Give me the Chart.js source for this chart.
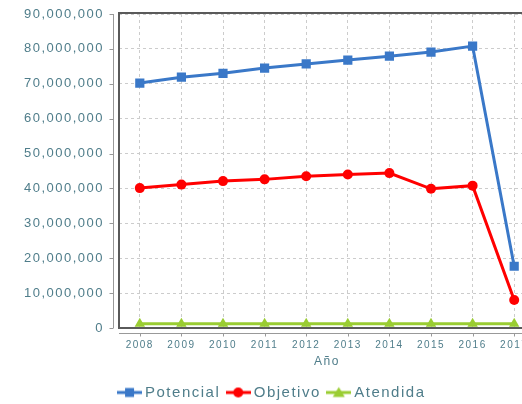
<!DOCTYPE html>
<html>
<head>
<meta charset="utf-8">
<script src="https://cdn.jsdelivr.net/npm/chart.js@4"></script>
<style>
  html, body { margin: 0; padding: 0; overflow: hidden; background: #fff; }
  #wrap { width: 546px; height: 404px; }
</style>
</head>
<body>
<div id="wrap"><canvas id="chart"></canvas></div>
<script>
const years = ["2008", "2009", "2010", "2011", "2012", "2013", "2014", "2015", "2016", "2017"];
const potencial = [70200000, 71900000, 73000000, 74500000, 75700000, 76800000, 77900000, 79100000, 80800000, 17700000];
const objetivo = [40100000, 41100000, 42100000, 42600000, 43500000, 44000000, 44400000, 39900000, 40800000, 8000000];
const atendida = [1200000, 1200000, 1200000, 1200000, 1200000, 1200000, 1200000, 1200000, 1200000, 1200000];

const textColor = "#4f7d8a";
const blue = "#3a78c8";
const red = "#ff0000";
const green = "#9acd32";
const fontFamily = "'Liberation Sans', Arial, sans-serif";

// little line + marker icons for the legend
function legendIcon(color, style) {
  const c = document.createElement("canvas");
  c.width = 25;
  c.height = 14;
  const g = c.getContext("2d");
  g.strokeStyle = color;
  g.fillStyle = color;
  g.lineWidth = 3;
  g.beginPath();
  g.moveTo(0, 7);
  g.lineTo(25, 7);
  g.stroke();
  g.beginPath();
  if (style === "rect") {
    g.rect(8, 2.5, 9, 9);
  } else if (style === "circle") {
    g.arc(12.5, 7, 5, 0, Math.PI * 2);
  } else {
    g.moveTo(12.5, 1.5);
    g.lineTo(18.5, 11.5);
    g.lineTo(6.5, 11.5);
    g.closePath();
  }
  g.fill();
  return c;
}

const spacing = {
  id: "spacing",
  beforeUpdate(chart) { chart.ctx.letterSpacing = "1.5px"; },
  beforeDraw(chart) { chart.ctx.letterSpacing = "1.5px"; },
};

// plot frame plus axis lines set a little apart from it
const frame = {
  id: "frame",
  beforeDatasetsDraw(chart) {
    const { ctx, chartArea: a, scales } = chart;
    ctx.save();
    ctx.strokeStyle = "#5a5a5a";
    ctx.lineWidth = 2;
    ctx.beginPath();
    ctx.moveTo(a.right, a.top - 1);
    ctx.lineTo(a.left, a.top - 1);
    ctx.lineTo(a.left, a.bottom);
    ctx.lineTo(a.right, a.bottom);
    ctx.stroke();

    ctx.strokeStyle = "#999";
    ctx.lineWidth = 1;
    ctx.beginPath();
    const ax = a.left - 5.5;
    ctx.moveTo(ax, a.top);
    ctx.lineTo(ax, a.bottom);
    scales.y.ticks.forEach((t, i) => {
      const py = Math.round(scales.y.getPixelForTick(i)) + 0.5;
      ctx.moveTo(ax - 4, py);
      ctx.lineTo(ax, py);
    });
    const ay = a.bottom + 5.5;
    ctx.moveTo(a.left, ay);
    ctx.lineTo(a.right, ay);
    scales.x.ticks.forEach((t, i) => {
      const px = Math.round(scales.x.getPixelForTick(i)) + 0.5;
      ctx.moveTo(px, ay);
      ctx.lineTo(px, ay + 3);
    });
    ctx.stroke();
    ctx.restore();
  },
};

new Chart(document.getElementById("chart"), {
  type: "line",
  data: {
    labels: years,
    datasets: [
      {
        label: "Potencial",
        data: potencial,
        borderColor: blue,
        backgroundColor: blue,
        borderWidth: 3,
        pointStyle: "rect",
        pointRadius: 6.5,
        pointHoverRadius: 6.5,
        pointBorderWidth: 0,
      },
      {
        label: "Objetivo",
        data: objetivo,
        borderColor: red,
        backgroundColor: red,
        borderWidth: 3,
        pointStyle: "circle",
        pointRadius: 5,
        pointHoverRadius: 5,
        pointBorderWidth: 0,
      },
      {
        label: "Atendida",
        data: atendida,
        borderColor: green,
        backgroundColor: green,
        borderWidth: 3,
        pointStyle: "triangle",
        pointRadius: 6,
        pointHoverRadius: 6,
        pointBorderWidth: 0,
      },
    ],
  },
  options: {
    responsive: true,
    maintainAspectRatio: false,
    animation: false,
    layout: { padding: { top: 14, right: 11, left: 12, bottom: -6 } },
    plugins: {
      tooltip: { enabled: false },
      legend: {
        position: "bottom",
        labels: {
          color: textColor,
          font: { family: fontFamily, size: 15 },
          usePointStyle: true,
          pointStyleWidth: 16,
          padding: 10,
          generateLabels(chart) {
            const icons = [legendIcon(blue, "rect"), legendIcon(red, "circle"), legendIcon(green, "triangle")];
            return chart.data.datasets.map((ds, i) => ({
              text: ds.label,
              pointStyle: icons[i],
              fontColor: textColor,
              datasetIndex: i,
              hidden: false,
              lineWidth: 0,
            }));
          },
        },
      },
    },
    scales: {
      x: {
        offset: true,
        afterFit(s) { s.height = 47; },
        grid: { color: "#cccccc", drawTicks: false },
        border: { display: false, dash: [3, 3] },
        ticks: {
          color: textColor,
          padding: 11,
          font: { family: fontFamily, size: 10 },
          maxRotation: 0,
          autoSkip: false,
        },
        title: {
          display: true,
          text: "Año",
          color: textColor,
          font: { family: fontFamily, size: 12 },
          padding: { top: 4, bottom: 6 },
        },
      },
      y: {
        min: 0,
        max: 90000000,
        afterFit(s) { s.width = 107; },
        grid: { color: "#cccccc", drawTicks: true, tickLength: 15, tickColor: "rgba(0,0,0,0)" },
        border: { display: false, dash: [3, 3] },
        ticks: {
          stepSize: 10000000,
          color: textColor,
          padding: 0,
          font: { family: fontFamily, size: 13 },
          callback: (v) => v.toLocaleString("en-US"),
        },
      },
    },
  },
  plugins: [spacing, frame],
});
</script>
</body>
</html>
